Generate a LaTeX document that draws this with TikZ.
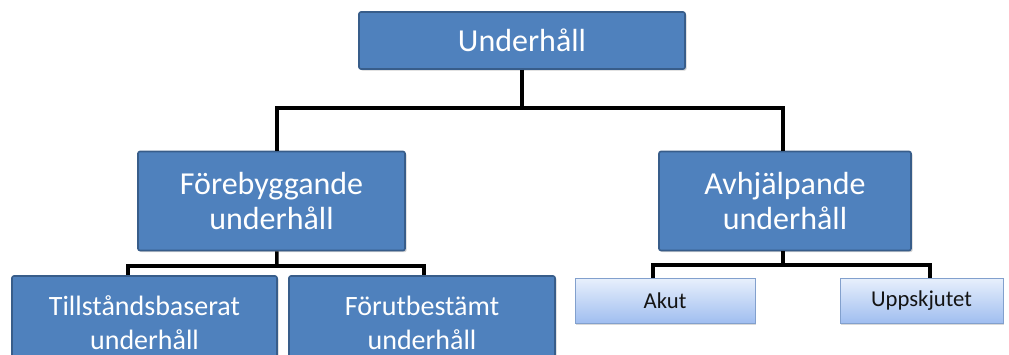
\documentclass[tikz,border=0pt]{standalone}
\usepackage{fontspec}
\setmainfont{Carlito}
\usetikzlibrary{shadows}

\begin{document}
\begin{tikzpicture}[x=0.75pt,y=-0.75pt,
  bluebox/.style={shape=rectangle,draw=uh_border,line width=1.2pt,fill=uh_blue,
    rounded corners=1.5pt,text=white,align=center,
    drop shadow={opacity=0.35,shadow xshift=1.2pt,shadow yshift=-1.2pt}},
  lightbox/.style={shape=rectangle,draw=uh_lightborder,line width=0.6pt,
    top color=uh_lighttop,bottom color=uh_lightbot,text=uh_text,align=center,
    drop shadow={opacity=0.3,shadow xshift=1pt,shadow yshift=-1.5pt}},
  conn/.style={draw=black,line width=2.6pt}]
\definecolor{uh_blue}{RGB}{79,129,189}
\definecolor{uh_border}{RGB}{56,93,138}
\definecolor{uh_lighttop}{RGB}{232,240,252}
\definecolor{uh_lightbot}{RGB}{160,190,240}
\definecolor{uh_lightborder}{RGB}{130,160,205}
\definecolor{uh_text}{RGB}{20,20,20}
\useasboundingbox (0,0) rectangle (1009,354);
\clip (0,0) rectangle (1009,354);

\node[bluebox,minimum width=244.5pt,minimum height=42.75pt,font=\fontsize{24}{26}\selectfont] (uh) at (522,40.5) {Underhåll};
\node[bluebox,minimum width=200.25pt,minimum height=74.25pt,font=\fontsize{24}{26}\selectfont] (fore) at (271.5,201) {Förebyggande\\underhåll};
\node[bluebox,minimum width=189pt,minimum height=74.25pt,font=\fontsize{24}{26}\selectfont] (avh) at (785,201) {Avhjälpande\\underhåll};
\node[bluebox,minimum width=198.75pt,minimum height=70.5pt,font=\fontsize{21}{25.5}\selectfont] (till) at (144.5,323) {Tillståndsbaserat\\underhåll};
\node[bluebox,minimum width=199.5pt,minimum height=70.5pt,font=\fontsize{21}{25.5}\selectfont] (foru) at (422,323) {Förutbestämt\\underhåll};
\node[lightbox,minimum width=135pt,minimum height=33.75pt,font=\fontsize{17}{20}\selectfont] (akut) at (665,300.5) {Akut};
\node[lightbox,minimum width=122.25pt,minimum height=33.75pt,font=\fontsize{17}{20}\selectfont] (upps) at (921.5,300.5) {Uppskjutet};

% connectors
\coordinate (bus1) at (522,108);
\coordinate (bus2) at (277,266);
\coordinate (bus3) at (783,265);
\draw[conn] (uh.south) -- (bus1);
\draw[conn] ([xshift=4pt]fore.north) |- (bus1) -| ([xshift=-1.5pt]avh.north);
\draw[conn] ([xshift=4pt]fore.south) -- (bus2);
\draw[conn] ([xshift=-12.4pt]till.north) |- (bus2) -| ([xshift=1.5pt]foru.north);
\draw[conn] ([xshift=-1.5pt]avh.south) -- (bus3);
\draw[conn] ([xshift=-9pt]akut.north) |- (bus3) -| ([xshift=6.4pt]upps.north);
\end{tikzpicture}
\end{document}
